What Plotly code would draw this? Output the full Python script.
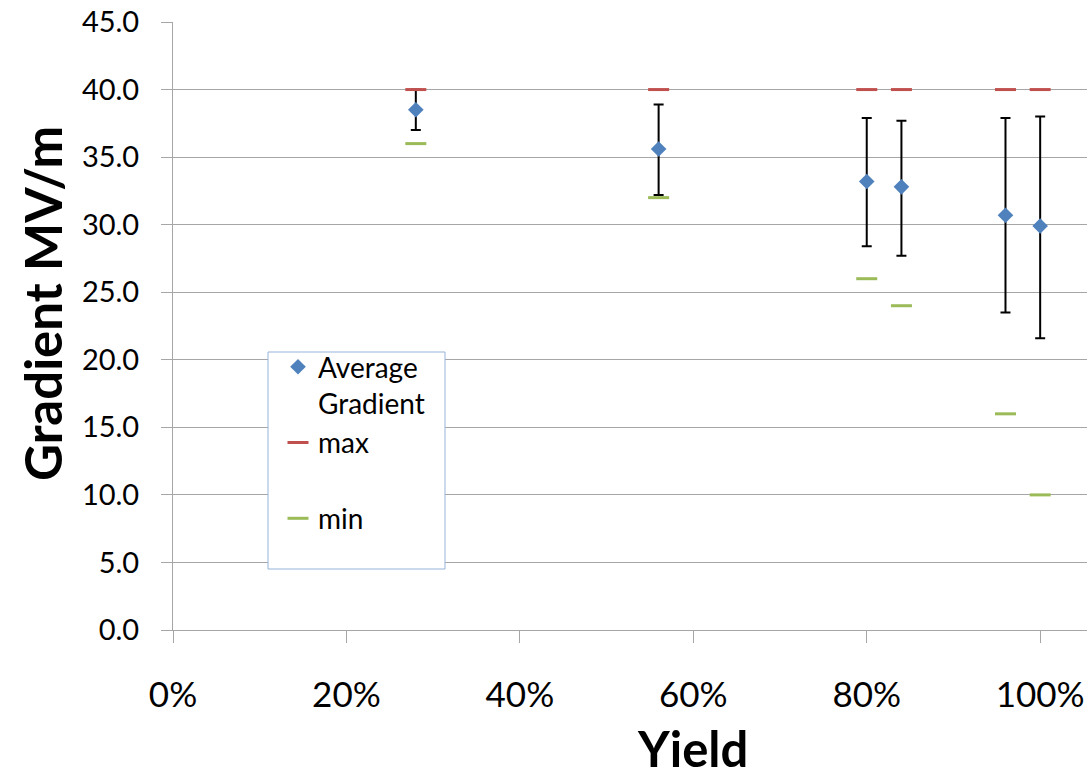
import plotly.graph_objects as go

# Data
yield_frac = [0.28, 0.56, 0.80, 0.84, 0.96, 1.00]
avg_gradient = [38.5, 35.6, 33.2, 32.8, 30.7, 29.9]
err_upper = [40.0, 38.9, 37.9, 37.7, 37.9, 38.0]
err_lower = [37.0, 32.2, 28.4, 27.7, 23.5, 21.6]
max_gradient = [40, 40, 40, 40, 40, 40]
min_gradient = [36, 32, 26, 24, 16, 10]

x_tickvals = [0, 0.2, 0.4, 0.6, 0.8, 1.0]
y_tickvals = [0, 5, 10, 15, 20, 25, 30, 35, 40, 45]

plus = [u - a for u, a in zip(err_upper, avg_gradient)]
minus = [a - l for a, l in zip(avg_gradient, err_lower)]

FONT = "Lato"
BLUE = "#4f81bd"
RED = "#c0504d"
GREEN = "#9bbb59"
GRID = "#a6a6a6"
NB = "\u00a0"

fig = go.Figure()

fig.add_trace(go.Scatter(
    x=yield_frac, y=avg_gradient, mode="markers",
    name="Average<br>Gradient",
    marker=dict(symbol="diamond", size=12, color=BLUE),
    error_y=dict(type="data", symmetric=False, array=plus, arrayminus=minus,
                 color="black", thickness=2, width=5),
))
fig.add_trace(go.Scatter(
    x=yield_frac, y=max_gradient, mode="markers",
    name="max<br>" + NB,
    marker=dict(symbol="line-ew", size=15, color=RED,
                line=dict(color=RED, width=3)),
))
fig.add_trace(go.Scatter(
    x=yield_frac, y=min_gradient, mode="markers",
    name="min<br>" + NB,
    marker=dict(symbol="line-ew", size=15, color=GREEN,
                line=dict(color=GREEN, width=3)),
))

W, H = 1089, 780
ml, mr, mt, mb = 173, 2, 22, 150
pw, ph = W - ml - mr, H - mt - mb

def px_x(p):
    return (p - ml) / pw

def px_y(p):
    return (H - mb - p) / ph

fig.update_layout(
    width=W, height=H,
    margin=dict(l=ml, r=mr, t=mt, b=mb, autoexpand=False),
    paper_bgcolor="white", plot_bgcolor="white",
    font=dict(family=FONT, color="black"),
    showlegend=True,
    legend=dict(
        x=px_x(278), y=px_y(342),
        xanchor="left", yanchor="top",
        bgcolor="rgba(0,0,0,0)", borderwidth=0,
        font=dict(family=FONT, size=28, color="black"),
        valign="top",
        itemsizing="trace",
    ),
    shapes=[
        dict(type="rect", xref="paper", yref="paper", layer="above",
             x0=px_x(268), x1=px_x(445), y0=px_y(569), y1=px_y(352),
             fillcolor="white", line=dict(color="#95b3d7", width=1)),
    ],
    xaxis=dict(
        range=[0, 1.054], automargin=False,
        tickvals=x_tickvals, tickformat=".0%",
        tickfont=dict(family=FONT, size=35, color="black"),
        ticks="outside", ticklen=12, tickcolor=GRID, tickwidth=1,
        showgrid=False, zeroline=False,
        showline=True, linecolor=GRID, linewidth=1,
        ticklabelstandoff=22,
    ),
    yaxis=dict(
        range=[0, 45], automargin=False,
        tickvals=y_tickvals, tickformat=".1f",
        tickfont=dict(family=FONT, size=29, color="black"),
        ticks="outside", ticklen=11, tickcolor=GRID, tickwidth=1,
        showgrid=True, gridcolor=GRID, gridwidth=1,
        zeroline=False,
        showline=True, linecolor=GRID, linewidth=1,
        ticklabelstandoff=16,
    ),
    annotations=[
        dict(text="<b>Yield</b>", xref="paper", yref="paper",
             x=px_x(692), y=px_y(748), xanchor="center", yanchor="middle",
             showarrow=False, font=dict(family=FONT, size=49, color="black")),
        dict(text="<b>Gradient MV/m</b>", xref="paper", yref="paper",
             x=px_x(42), y=px_y(304), xanchor="center", yanchor="middle",
             textangle=-90,
             showarrow=False, font=dict(family=FONT, size=51, color="black")),
    ],
)

fig.write_html(
    "out.html",
    config={"displayModeBar": False},
    post_script="document.body.style.margin='0';document.body.style.padding='0';",
)
